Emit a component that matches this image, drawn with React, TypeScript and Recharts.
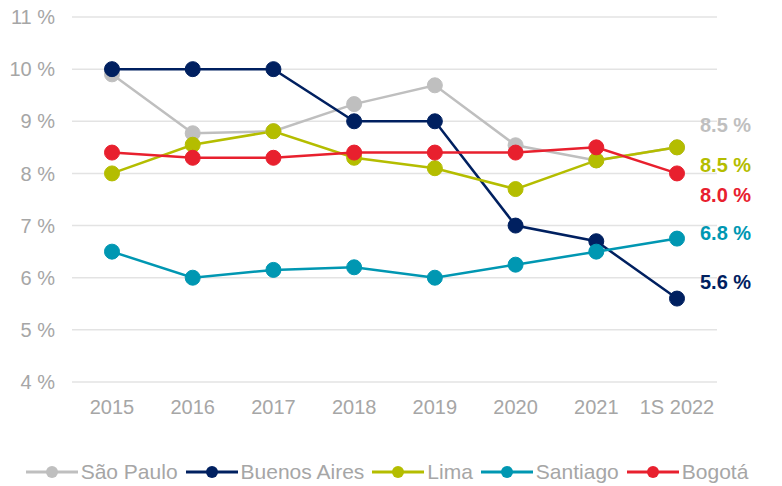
import { LineChart, Line, XAxis, YAxis, CartesianGrid, Legend, LabelList } from "recharts";

const years = ["2015", "2016", "2017", "2018", "2019", "2020", "2021", "1S 2022"];
const saoPaulo = [9.9, 8.77, 8.81, 9.33, 9.69, 8.54, 8.25, 8.5];
const buenosAires = [10, 10, 10, 9, 9, 7, 6.7, 5.6];
const lima = [8.0, 8.55, 8.81, 8.3, 8.1, 7.7, 8.25, 8.5];
const santiago = [6.5, 6.0, 6.15, 6.2, 6.0, 6.25, 6.5, 6.75];
const bogota = [8.4, 8.3, 8.3, 8.4, 8.4, 8.4, 8.5, 8.0];
const yTicks = [4, 5, 6, 7, 8, 9, 10, 11];

const series = [
  { key: "sp", name: "São Paulo", values: saoPaulo, color: "#bfbfbf", label: "8.5 %", dy: -22 },
  { key: "ba", name: "Buenos Aires", values: buenosAires, color: "#002060", label: "5.6 %", dy: -17 },
  { key: "li", name: "Lima", values: lima, color: "#b4bd00", label: "8.5 %", dy: 18 },
  { key: "sa", name: "Santiago", values: santiago, color: "#0097b2", label: "6.8 %", dy: -6 },
  { key: "bo", name: "Bogotá", values: bogota, color: "#e8202e", label: "8.0 %", dy: 22 },
];

const data = years.map((year, i) => {
  const row: Record<string, string | number> = { year };
  series.forEach(s => { row[s.key] = s.values[i]; });
  return row;
});

const font = "'Liberation Sans', Arial, sans-serif";
const grey = "#a6a6a6";

function LegendContent() {
  return (
    <div style={{ display: "flex", justifyContent: "center", alignItems: "center", fontFamily: font, fontSize: 21, color: grey, lineHeight: "24px" }}>
      {series.map(s => (
        <div key={s.key} style={{ display: "flex", alignItems: "center", marginRight: 8 }}>
          <svg width={52} height={16} style={{ marginRight: 3 }}>
            <line x1={0} y1={8} x2={52} y2={8} stroke={s.color} strokeWidth={3} />
            <circle cx={26} cy={8} r={6} fill={s.color} />
          </svg>
          <span>{s.name}</span>
        </div>
      ))}
    </div>
  );
}

export default function App() {
  return (
    <div style={{ position: "absolute", left: 0, top: 0, background: "#fff" }}>
      <LineChart width={782} height={486} data={data} margin={{ top: 17, right: 65, left: 0, bottom: 30 }}>
        <CartesianGrid vertical={false} stroke="#e3e3e3" strokeWidth={1.5} />
        <XAxis dataKey="year" height={50} axisLine={false} tickLine={false} tickMargin={12}
          padding={{ left: 40, right: 40 }}
          tick={{ fontSize: 20, fill: grey, fontFamily: font }} interval={0} />
        <YAxis width={72} domain={[4, 11]} ticks={yTicks} axisLine={false} tickLine={false} tickMargin={11}
          tickFormatter={(v: number) => `${v} %`} tick={{ fontSize: 20, fill: grey, fontFamily: font }} />
        <Legend verticalAlign="bottom" content={<LegendContent />} wrapperStyle={{ top: 460, left: 0, width: 782 }} />
        {series.map(s => (
          <Line key={s.key} dataKey={s.key} name={s.name} stroke={s.color} strokeWidth={2.5}
            dot={{ r: 7.5, fill: s.color, stroke: s.color, strokeWidth: 1 }} activeDot={false} isAnimationActive={false}>
            <LabelList dataKey={s.key} content={(p: any) => p.index === years.length - 1 ? (
              <text x={p.x + 23} y={p.y + s.dy} dy="0.35em" fill={s.color} fontSize={20} fontWeight="bold" fontFamily={font}>{s.label}</text>
            ) : null} />
          </Line>
        ))}
      </LineChart>
    </div>
  );
}
